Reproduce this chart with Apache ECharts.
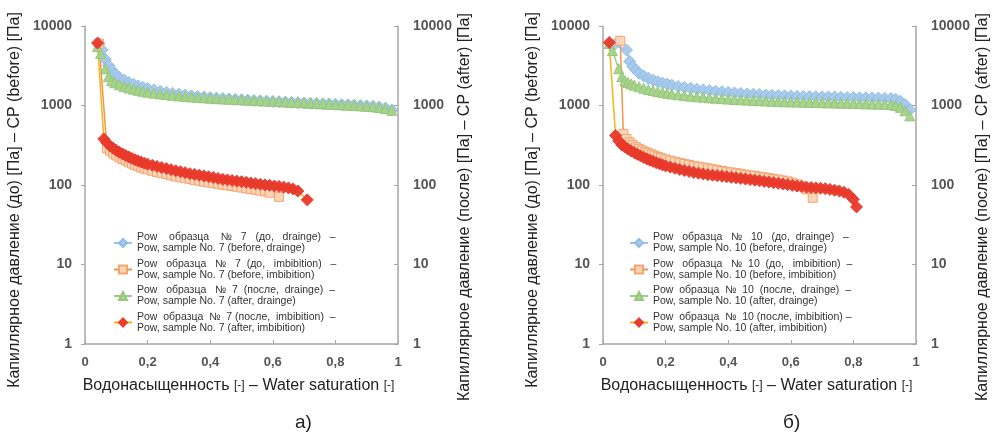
<!DOCTYPE html>
<html>
<head>
<meta charset="utf-8">
<script src="https://cdn.jsdelivr.net/npm/echarts@6.0.0/dist/echarts.min.js"></script>
<style>
html,body{margin:0;padding:0;background:#fff;}
#chart{width:999px;height:434px;}
</style>
</head>
<body>
<div id="chart"></div>
<script>
// ---- данные: образец № 7 (панель а) ----
var a_bd_x = [0.045,0.055,0.065,0.075,0.085,0.095,0.11,0.125,0.14,0.155,0.17,0.185,0.2,0.22,0.24,0.26,0.28,0.3,0.32,0.34,0.36,0.38,0.4,0.42,0.44,0.46,0.48,0.5,0.52,0.54,0.56,0.58,0.6,0.62,0.64,0.66,0.68,0.7,0.72,0.74,0.76,0.78,0.8,0.82,0.84,0.86,0.88,0.9,0.92,0.94,0.96,0.98];
var a_bd_y = [6000,5000,3800,3200,2800,2500,2250,2080,1950,1850,1760,1690,1630,1570,1510,1460,1420,1385,1355,1325,1300,1280,1260,1240,1225,1210,1195,1180,1165,1155,1145,1135,1125,1115,1105,1095,1085,1075,1065,1060,1050,1045,1035,1025,1020,1010,1000,990,975,960,930,880];

var a_bi_x = [0.045,0.07,0.08,0.09,0.1,0.11,0.12,0.13,0.14,0.15,0.16,0.17,0.18,0.19,0.2,0.215,0.23,0.245,0.26,0.275,0.29,0.305,0.32,0.335,0.35,0.365,0.38,0.395,0.41,0.425,0.44,0.455,0.47,0.485,0.5,0.515,0.53,0.545,0.56,0.575,0.59,0.62];
var a_bi_y = [6000,290,270,250,235,222,212,203,194,186,179,172,166,161,157,151,146,141,137,132,128,125,122,119,116,113,110,108,106,103,101,99,97,95,93,91,89,87,85,83,80,71];

var a_ad_x = [0.04,0.05,0.065,0.075,0.085,0.095,0.11,0.125,0.14,0.155,0.17,0.185,0.2,0.22,0.24,0.26,0.28,0.3,0.32,0.34,0.36,0.38,0.4,0.42,0.44,0.46,0.48,0.5,0.52,0.54,0.56,0.58,0.6,0.62,0.64,0.66,0.68,0.7,0.72,0.74,0.76,0.78,0.8,0.82,0.84,0.86,0.88,0.9,0.92,0.94,0.96,0.98];
var a_ad_y = [5500,4500,2900,2300,2050,1930,1820,1730,1660,1600,1550,1510,1470,1430,1400,1370,1345,1320,1300,1280,1265,1250,1235,1220,1210,1200,1190,1180,1170,1160,1150,1140,1130,1120,1110,1100,1090,1080,1070,1060,1050,1040,1030,1020,1010,1000,990,980,965,945,915,870];

var a_ai_x = [0.04,0.06,0.07,0.08,0.09,0.1,0.11,0.12,0.13,0.14,0.15,0.16,0.17,0.18,0.19,0.2,0.215,0.23,0.245,0.26,0.275,0.29,0.305,0.32,0.335,0.35,0.365,0.38,0.395,0.41,0.425,0.44,0.455,0.47,0.485,0.5,0.515,0.53,0.545,0.56,0.575,0.59,0.605,0.62,0.635,0.65,0.665,0.68,0.71];
var a_ai_y = [6100,380,340,310,290,272,258,246,235,225,216,208,201,194,188,183,177,171,166,161,156,151,147,143,139,136,133,130,127,124,121,118,116,114,112,110,108,106,104,102,100,99,97,96,94,92,89,84,65];

// ---- данные: образец № 10 (панель б) ----
var b_bd_x = [0.035,0.075,0.085,0.095,0.105,0.115,0.13,0.145,0.16,0.175,0.19,0.205,0.22,0.24,0.26,0.28,0.3,0.32,0.34,0.36,0.38,0.4,0.42,0.44,0.46,0.48,0.5,0.52,0.54,0.56,0.58,0.6,0.62,0.64,0.66,0.68,0.7,0.72,0.74,0.76,0.78,0.8,0.82,0.84,0.86,0.88,0.9,0.92,0.935,0.95,0.965,0.98];
var b_bd_y = [5800,5000,3600,3100,2800,2550,2350,2200,2080,1990,1920,1860,1800,1740,1690,1645,1605,1570,1540,1510,1485,1460,1440,1420,1400,1385,1370,1355,1345,1335,1325,1315,1305,1300,1295,1290,1285,1280,1275,1270,1265,1260,1255,1250,1245,1240,1235,1225,1200,1130,1030,880];

var b_bi_x = [0.055,0.065,0.075,0.085,0.095,0.105,0.115,0.125,0.135,0.145,0.155,0.165,0.175,0.185,0.2,0.215,0.23,0.245,0.26,0.275,0.29,0.305,0.32,0.335,0.35,0.365,0.38,0.395,0.41,0.425,0.44,0.455,0.47,0.485,0.5,0.515,0.53,0.545,0.56,0.575,0.59,0.605,0.62,0.635,0.65,0.67];
var b_bi_y = [6500,440,380,345,320,300,285,272,261,251,242,234,226,219,210,203,196,190,184,179,174,170,166,162,158,154,150,147,144,141,138,135,132,130,127,125,122,119,117,114,111,107,102,96,88,69];

var b_ad_x = [0.02,0.03,0.05,0.06,0.07,0.08,0.09,0.1,0.115,0.13,0.145,0.16,0.175,0.19,0.205,0.22,0.24,0.26,0.28,0.3,0.32,0.34,0.36,0.38,0.4,0.42,0.44,0.46,0.48,0.5,0.52,0.54,0.56,0.58,0.6,0.62,0.64,0.66,0.68,0.7,0.72,0.74,0.76,0.78,0.8,0.82,0.84,0.86,0.88,0.9,0.92,0.935,0.95,0.965,0.98];
var b_ad_y = [6000,4900,2900,2300,2050,1950,1870,1800,1720,1650,1590,1540,1500,1460,1425,1395,1365,1335,1310,1290,1270,1250,1235,1220,1205,1190,1180,1170,1160,1150,1140,1130,1120,1115,1110,1105,1100,1095,1090,1085,1080,1075,1070,1065,1060,1055,1050,1045,1040,1035,1025,1000,950,860,740];

var b_ai_x = [0.02,0.04,0.05,0.06,0.07,0.08,0.09,0.1,0.11,0.12,0.13,0.14,0.15,0.16,0.17,0.18,0.19,0.2,0.215,0.23,0.245,0.26,0.275,0.29,0.305,0.32,0.335,0.35,0.365,0.38,0.395,0.41,0.425,0.44,0.455,0.47,0.485,0.5,0.515,0.53,0.545,0.56,0.575,0.59,0.605,0.62,0.635,0.65,0.665,0.68,0.695,0.71,0.725,0.74,0.755,0.77,0.785,0.8,0.81];
var b_ai_y = [6200,420,360,320,300,283,268,255,243,232,222,213,205,198,191,185,179,174,168,162,157,152,148,144,141,138,135,133,131,129,127,125,123,121,119,117,115,113,111,109,107,105,103,101,99,97,96,94,93,92,91,90,88,86,84,81,76,66,53];

// подписи осей
var xTicks = [0, 0.2, 0.4, 0.6, 0.8, 1];
var yTicks = [1, 10, 100, 1000, 10000];
var xTitle = 'Водонасыщенность {s|[-]} – Water saturation {s|[-]}';
var yTitleLeft = 'Капиллярное давление (до) [Па] – CP (before) [Па]';
var yTitleRight = 'Капиллярное давление (после) [Па] – CP (after) [Па]';

// легенда (первая строка растянута пробелами, как в оригинале)
var namesA = [
    'Pow    образца    №   7   (до,   drainge)   –\nPow, sample No. 7 (before, drainge)',
    'Pow   образца   №   7  (до,   imbibition)   –\nPow, sample No. 7 (before, imbibition)',
    'Pow   образца   №  7  (после,  drainge)  –\nPow, sample No. 7 (after, drainge)',
    'Pow  образца  №  7 (после,  imbibition)  –\nPow, sample No. 7 (after, imbibition)'
];
var namesB = [
    'Pow   образца   №   10   (до,  drainge)   –\nPow, sample No. 10 (before, drainge)',
    'Pow   образца   №  10  (до,   imbibition)  –\nPow, sample No. 10 (before, imbibition)',
    'Pow  образца  №  10  (после,  drainge)  –\nPow, sample No. 10 (after, drainge)',
    'Pow  образца  №  10 (после, imbibition) –\nPow, sample No. 10 (after, imbibition)'
];

var FONT = 'Liberation Sans, Arial, sans-serif';
var AXIS_COLOR = '#a6a6a6';

function pairs(xs, ys) {
    var out = [];
    for (var i = 0; i < xs.length; i++) out.push([xs[i], ys[i]]);
    return out;
}

function makeX(gi) {
    return {
        type: 'value', gridIndex: gi, min: 0, max: 1, interval: 0.2,
        axisLine: {show: true, onZero: false, lineStyle: {color: AXIS_COLOR, width: 1.5}},
        axisTick: {show: true, inside: true, length: 4, lineStyle: {color: AXIS_COLOR}},
        splitLine: {show: false},
        axisLabel: {
            margin: 12, fontSize: 13, fontWeight: 'bold', color: '#555', fontFamily: FONT,
            formatter: function (v) {
                if (xTicks.indexOf(Math.round(v * 10) / 10) < 0) return '';
                return (Math.round(v * 10) / 10).toString().replace('.', ',');
            }
        },
        name: xTitle, nameLocation: 'middle', nameGap: 34,
        nameTextStyle: {fontSize: 16, color: '#222', fontFamily: FONT, padding: [0, 6, 0, 0],
            rich: {s: {fontSize: 12, color: '#222', fontFamily: FONT}}}
    };
}

function makeY(gi, pos, title) {
    return {
        type: 'log', logBase: 10, gridIndex: gi, position: pos, min: 1, max: 10000,
        axisLine: {show: true, lineStyle: {color: AXIS_COLOR, width: 1.5}},
        axisTick: {show: true, inside: pos === 'right', length: 4, lineStyle: {color: AXIS_COLOR}},
        splitLine: {show: false},
        minorTick: {show: false},
        axisLabel: {
            margin: pos === 'right' ? 15 : 13, fontSize: 14, fontWeight: 'bold', color: '#555', fontFamily: FONT,
            formatter: function (v) { return String(Math.round(v)); }
        },
        name: title, nameLocation: 'middle', nameRotate: 90, nameGap: pos === 'right' ? 59 : 62,
        nameTextStyle: {fontSize: 16, color: '#222', fontFamily: FONT,
            padding: pos === 'right' ? [0, 44, 0, 0] : [0, 30, 0, 0]}
    };
}

// стили серий: до-дренаж, до-пропитка, после-дренаж, после-пропитка
var styles = [
    {symbol: 'diamond', size: 12, color: '#a4c9ec', border: '#8dbbe6', line: '#9cc3ea'},
    {symbol: 'rect', size: 9, color: '#fbd3b6', border: '#f2a26c', line: '#f39448'},
    {symbol: 'triangle', size: 10, color: '#a5d28a', border: '#93c577', line: '#9ccc80'},
    {symbol: 'diamond', size: 12, color: '#e8392b', border: '#e8392b', line: '#f5b316'}
];

function makeSeries(name, gi, xs, ys, k) {
    var st = styles[k];
    return {
        name: name, type: 'line', xAxisIndex: gi, yAxisIndex: gi * 2,
        data: pairs(xs, ys),
        symbol: st.symbol, symbolSize: st.size, showSymbol: true,
        lineStyle: {color: st.line, width: 1.5},
        itemStyle: {color: st.color, borderColor: st.border, borderWidth: 1, opacity: 0.95},
        emphasis: {disabled: true}
    };
}

var series = [
    makeSeries(namesA[0], 0, a_bd_x, a_bd_y, 0),
    makeSeries(namesA[1], 0, a_bi_x, a_bi_y, 1),
    makeSeries(namesA[2], 0, a_ad_x, a_ad_y, 2),
    makeSeries(namesA[3], 0, a_ai_x, a_ai_y, 3),
    makeSeries(namesB[0], 1, b_bd_x, b_bd_y, 0),
    makeSeries(namesB[1], 1, b_bi_x, b_bi_y, 1),
    makeSeries(namesB[2], 1, b_ad_x, b_ad_y, 2),
    makeSeries(namesB[3], 1, b_ai_x, b_ai_y, 3)
];

function makeLegend(names, left) {
    return {
        data: names, orient: 'vertical', left: left, top: 232,
        padding: 0,
        itemWidth: 18, itemHeight: 10, itemGap: 4.5,
        selectedMode: false,
        textStyle: {fontSize: 10.5, lineHeight: 11, color: '#333', fontFamily: FONT}
    };
}

var myChart = echarts.init(document.getElementById('chart'));
var option = {
    animation: false,
    backgroundColor: '#fff',
    grid: [
        {left: 85, top: 26, width: 313, height: 318},
        {left: 603, top: 26, width: 313, height: 318}
    ],
    xAxis: [makeX(0), makeX(1)],
    yAxis: [
        makeY(0, 'left', yTitleLeft), makeY(0, 'right', yTitleRight),
        makeY(1, 'left', yTitleLeft), makeY(1, 'right', yTitleRight)
    ],
    legend: [makeLegend(namesA, 113), makeLegend(namesB, 629)],
    series: series,
    graphic: [
        {type: 'text', left: 295, top: 413, style: {text: 'а)', font: '19px ' + FONT, fill: '#222'}},
        {type: 'text', left: 783, top: 413, style: {text: 'б)', font: '19px ' + FONT, fill: '#222'}}
    ]
};
myChart.setOption(option);
</script>
</body>
</html>
